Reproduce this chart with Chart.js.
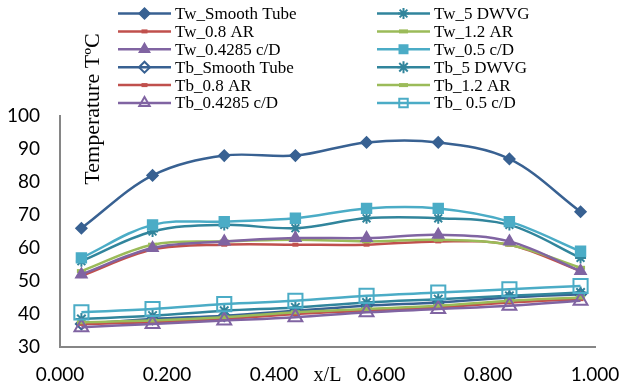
<!DOCTYPE html>
<html>
<head>
<meta charset="utf-8">
<script src="https://cdn.jsdelivr.net/npm/chart.js@4.4.1/dist/chart.umd.min.js"></script>
<style>
  html, body { margin: 0; padding: 0; background: #fff; }
  #wrap { width: 621px; height: 391px; }
</style>
</head>
<body>
<div id="wrap"><canvas id="chart"></canvas></div>
<script>
// x/L positions of the measuring stations
const xPos = [0.040, 0.173, 0.307, 0.440, 0.573, 0.707, 0.840, 0.973];

const seriesNames = [
  'Tw_Smooth Tube', 'Tw_5 DWVG', 'Tw_0.8 AR', 'Tw_1.2 AR', 'Tw_0.4285 c/D', 'Tw_0.5 c/D',
  'Tb_Smooth Tube', 'Tb_5 DWVG', 'Tb_0.8 AR', 'Tb_1.2 AR', 'Tb_0.4285 c/D', 'Tb_ 0.5 c/D'
];

// wall temperatures
const twSmooth = [66, 82, 88, 88, 92, 92, 87, 71];
const tw5dwvg  = [56, 65, 67, 66, 69, 69, 67, 57];
const tw08ar   = [51.5, 59.5, 61, 61, 61, 62, 61, 53];
const tw12ar   = [53, 61, 62, 62.5, 62, 62.5, 61, 54];
const tw04285  = [52, 60, 62, 63, 63, 64, 62, 53];
const tw05cd   = [57, 67, 68, 69, 72, 72, 68, 59];

// bulk temperatures
const tbSmooth = [37, 38.5, 39.5, 41, 42.5, 43.5, 45, 46];
const tb5dwvg  = [38.5, 39.5, 41, 42, 43.5, 44.5, 45.5, 46.5];
const tb08ar   = [37, 37.5, 38.5, 40, 41, 42, 43.5, 44.5];
const tb12ar   = [37.5, 38, 39, 40.5, 41.5, 42.5, 44, 45];
const tb04285  = [36, 37, 38, 39, 40.5, 41.5, 42.5, 44];
const tb05cd   = [40.5, 41.5, 43, 44, 45.5, 46.5, 47.5, 48.5];

const allSeries = [twSmooth, tw5dwvg, tw08ar, tw12ar, tw04285, tw05cd,
                   tbSmooth, tb5dwvg, tb08ar, tb12ar, tb04285, tb05cd];

const yTicks = [30, 40, 50, 60, 70, 80, 90, 100];
const xTicks = [0, 0.2, 0.4, 0.6, 0.8, 1.0];

// look of each series (Excel 2010 palette)
const colors = ['#386192', '#31859C', '#C0504D', '#9BBB59', '#8064A2', '#4BACC6'];
const marks = [
  { style: 'rectRot',  r: 5.5, bw: 1.5, fill: true },
  { style: 'star',     r: 5.5, bw: 2,   fill: false },
  { style: 'line',     r: 3,   bw: 4,   fill: true },
  { style: 'line',     r: 4.5, bw: 4,   fill: true },
  { style: 'triangle', r: 6.5, bw: 1.5, fill: true },
  { style: 'rect',     r: 7,   bw: 1.5, fill: true }
];
const openMarks = [
  { style: 'rectRot',  r: 5.5, bw: 2, fill: false },
  { style: 'star',     r: 6,   bw: 2, fill: false },
  { style: 'line',     r: 3,   bw: 4, fill: true },
  { style: 'line',     r: 4.5, bw: 4, fill: true },
  { style: 'triangle', r: 8,   bw: 2, fill: false },
  { style: 'rect',     r: 10,  bw: 2, fill: false }
];

const datasets = allSeries.map((vals, i) => {
  const c = colors[i % 6];
  const m = i < 6 ? marks[i] : openMarks[i - 6];
  return {
    label: seriesNames[i],
    data: vals.map((v, k) => ({ x: xPos[k], y: v })),
    borderColor: c,
    backgroundColor: c,
    borderWidth: 2.5,
    tension: 0.35,
    pointStyle: m.style,
    pointRadius: m.r,
    pointBorderWidth: m.bw,
    pointBackgroundColor: m.fill ? c : 'rgba(0,0,0,0)',
    pointBorderColor: c,
    order: allSeries.length - i
  };
});

// two-column legend above the plot, like the Excel one
const legendPlugin = {
  id: 'twoColLegend',
  afterDraw(chart) {
    const ctx = chart.ctx;
    ctx.save();
    ctx.font = '17px "Liberation Serif", serif';
    ctx.textBaseline = 'middle';
    ctx.fillStyle = '#000';
    chart.data.datasets.forEach((ds, i) => {
      const col = i % 2, row = Math.floor(i / 2);
      const x0 = col ? 377 : 118;
      const y = 13.5 + row * 17.9;
      ctx.strokeStyle = ds.borderColor;
      ctx.lineWidth = 2.5;
      ctx.beginPath();
      ctx.moveTo(x0, y);
      ctx.lineTo(x0 + 53, y);
      ctx.stroke();
      ctx.fillStyle = ds.pointBackgroundColor;
      ctx.strokeStyle = ds.pointBorderColor;
      ctx.lineWidth = ds.pointBorderWidth;
      Chart.helpers.drawPoint(ctx, {
        pointStyle: ds.pointStyle,
        radius: Math.min(ds.pointRadius, 6),
        borderWidth: ds.pointBorderWidth,
        rotation: 0
      }, x0 + 26.5, y);
      ctx.fillStyle = '#000';
      ctx.fillText(ds.label, x0 + 57, y + 1);
    });
    ctx.restore();
  }
};

// axis titles placed the way they sit in the original
const titlesPlugin = {
  id: 'axisTitles',
  afterDraw(chart) {
    const ctx = chart.ctx;
    const xs = chart.scales.x;
    const area = chart.chartArea;
    ctx.save();
    ctx.fillStyle = '#000';
    ctx.textAlign = 'center';
    ctx.textBaseline = 'middle';
    ctx.font = '20px "Liberation Serif", serif';
    ctx.fillText('x/L', xs.getPixelForValue(0.5), area.bottom + 29);
    ctx.translate(area.left + 33, 109);
    ctx.rotate(-Math.PI / 2);
    ctx.font = '22px "Liberation Serif", serif';
    ctx.fillText('Temperature TºC', 0, 0);
    ctx.restore();
  }
};

new Chart(document.getElementById('chart'), {
  type: 'line',
  data: { datasets },
  plugins: [legendPlugin, titlesPlugin],
  options: {
    responsive: true,
    maintainAspectRatio: false,
    animation: false,
    layout: { padding: { top: 116, right: 26, left: 0, bottom: 0 } },
    plugins: { legend: { display: false }, tooltip: { enabled: false } },
    scales: {
      x: {
        type: 'linear',
        min: 0,
        max: 1,
        afterBuildTicks: s => { s.ticks = xTicks.map(v => ({ value: v })); },
        afterFit: s => { s.height = 44; s.paddingLeft = 0; s.paddingRight = 0; },
        grid: { display: false, drawTicks: false },
        border: { display: true, color: '#868686', width: 2 },
        ticks: {
          padding: 16,
          maxRotation: 0,
          color: '#000',
          font: { family: 'Lato', size: 19 },
          callback: v => Number(v).toFixed(3)
        }
      },
      y: {
        min: 30,
        max: 100,
        afterBuildTicks: s => { s.ticks = yTicks.map(v => ({ value: v })); },
        afterFit: s => { s.width = 60; },
        grid: { display: false, drawTicks: false },
        border: { display: true, color: '#868686', width: 2 },
        ticks: {
          padding: 20,
          color: '#000',
          font: { family: 'Lato', size: 19 }
        }
      }
    }
  }
});
</script>
</body>
</html>
